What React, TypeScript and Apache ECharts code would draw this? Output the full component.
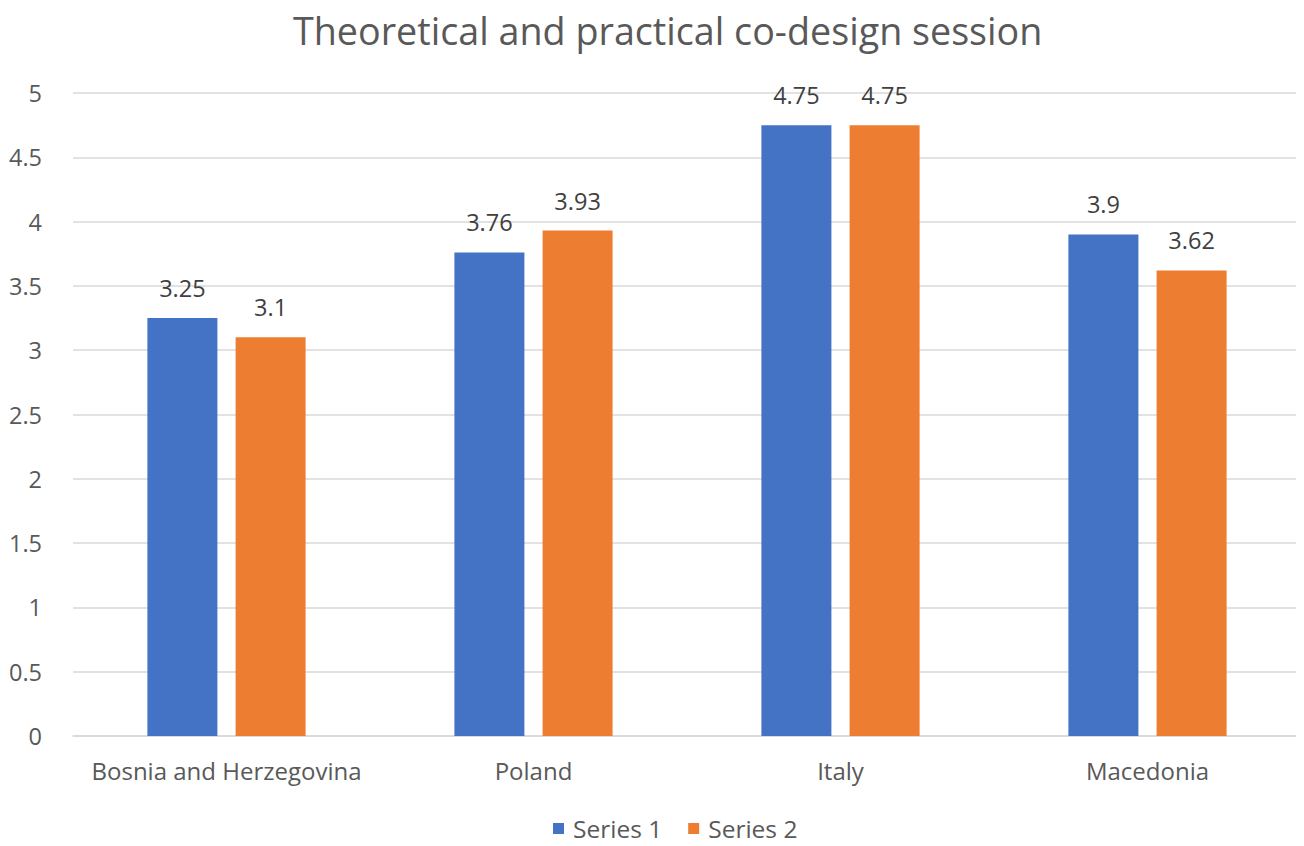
import React, { useEffect, useRef } from "react";
import * as echarts from "echarts";

const categories = ["Bosnia and Herzegovina", "Poland", "Italy", "Macedonia"];
const series1 = [3.25, 3.76, 4.75, 3.9];
const series2 = [3.1, 3.93, 4.75, 3.62];
const seriesNames = ["Series 1", "Series 2"];
const titleText = "Theoretical and practical co-design session";

export default function App() {
  const ref = useRef<HTMLDivElement>(null);
  useEffect(() => {
    const chart = echarts.init(ref.current!, null, { renderer: "svg" });
    const font = "'Open Sans', 'Noto Sans', sans-serif";
    const labelStyle = {
      show: true,
      position: "top" as const,
      distance: 18,
      color: "#404040",
      fontSize: 23.5,
      fontFamily: font,
    };
    chart.setOption({
      animation: false,
      backgroundColor: "#ffffff",
      title: {
        text: titleText,
        left: 288,
        top: 6,
        itemGap: 0,
        textStyle: {
          color: "#595959",
          fontSize: 37.7,
          fontWeight: "normal",
          fontFamily: font,
        },
      },
      legend: {
        data: seriesNames,
        bottom: 0,
        left: 548,
        itemWidth: 11,
        itemHeight: 11,
        itemGap: 26,
        icon: "rect",
        textStyle: {
          color: "#595959",
          fontSize: 24.5,
          fontFamily: font,
          padding: [0, 0, 0, 4],
        },
      },
      grid: { left: 73, right: 3, top: 93, bottom: 110, containLabel: false },
      xAxis: {
        type: "category",
        data: categories,
        axisLine: { lineStyle: { color: "#d9d9d9", width: 1.5 } },
        axisTick: { show: false },
        axisLabel: {
          color: "#595959",
          fontSize: 24,
          margin: 22,
          interval: 0,
          hideOverlap: false,
          fontFamily: font,
        },
      },
      yAxis: {
        type: "value",
        min: 0,
        max: 5,
        interval: 0.5,
        axisLine: { show: false },
        axisTick: { show: false },
        splitLine: { lineStyle: { color: "#d9d9d9", width: 1.5 } },
        axisLabel: { color: "#595959", fontSize: 23.5, margin: 31, fontFamily: font },
      },
      series: [
        {
          name: seriesNames[0],
          type: "bar",
          data: series1,
          barWidth: 70,
          barGap: "26%",
          itemStyle: { color: "#4472c4" },
          label: labelStyle,
        },
        {
          name: seriesNames[1],
          type: "bar",
          data: series2,
          barWidth: 70,
          itemStyle: { color: "#ed7d31" },
          label: labelStyle,
        },
      ],
    });
    return () => chart.dispose();
  }, []);
  return <div ref={ref} style={{ width: 1304, height: 846, margin: -8 }} />;
}
